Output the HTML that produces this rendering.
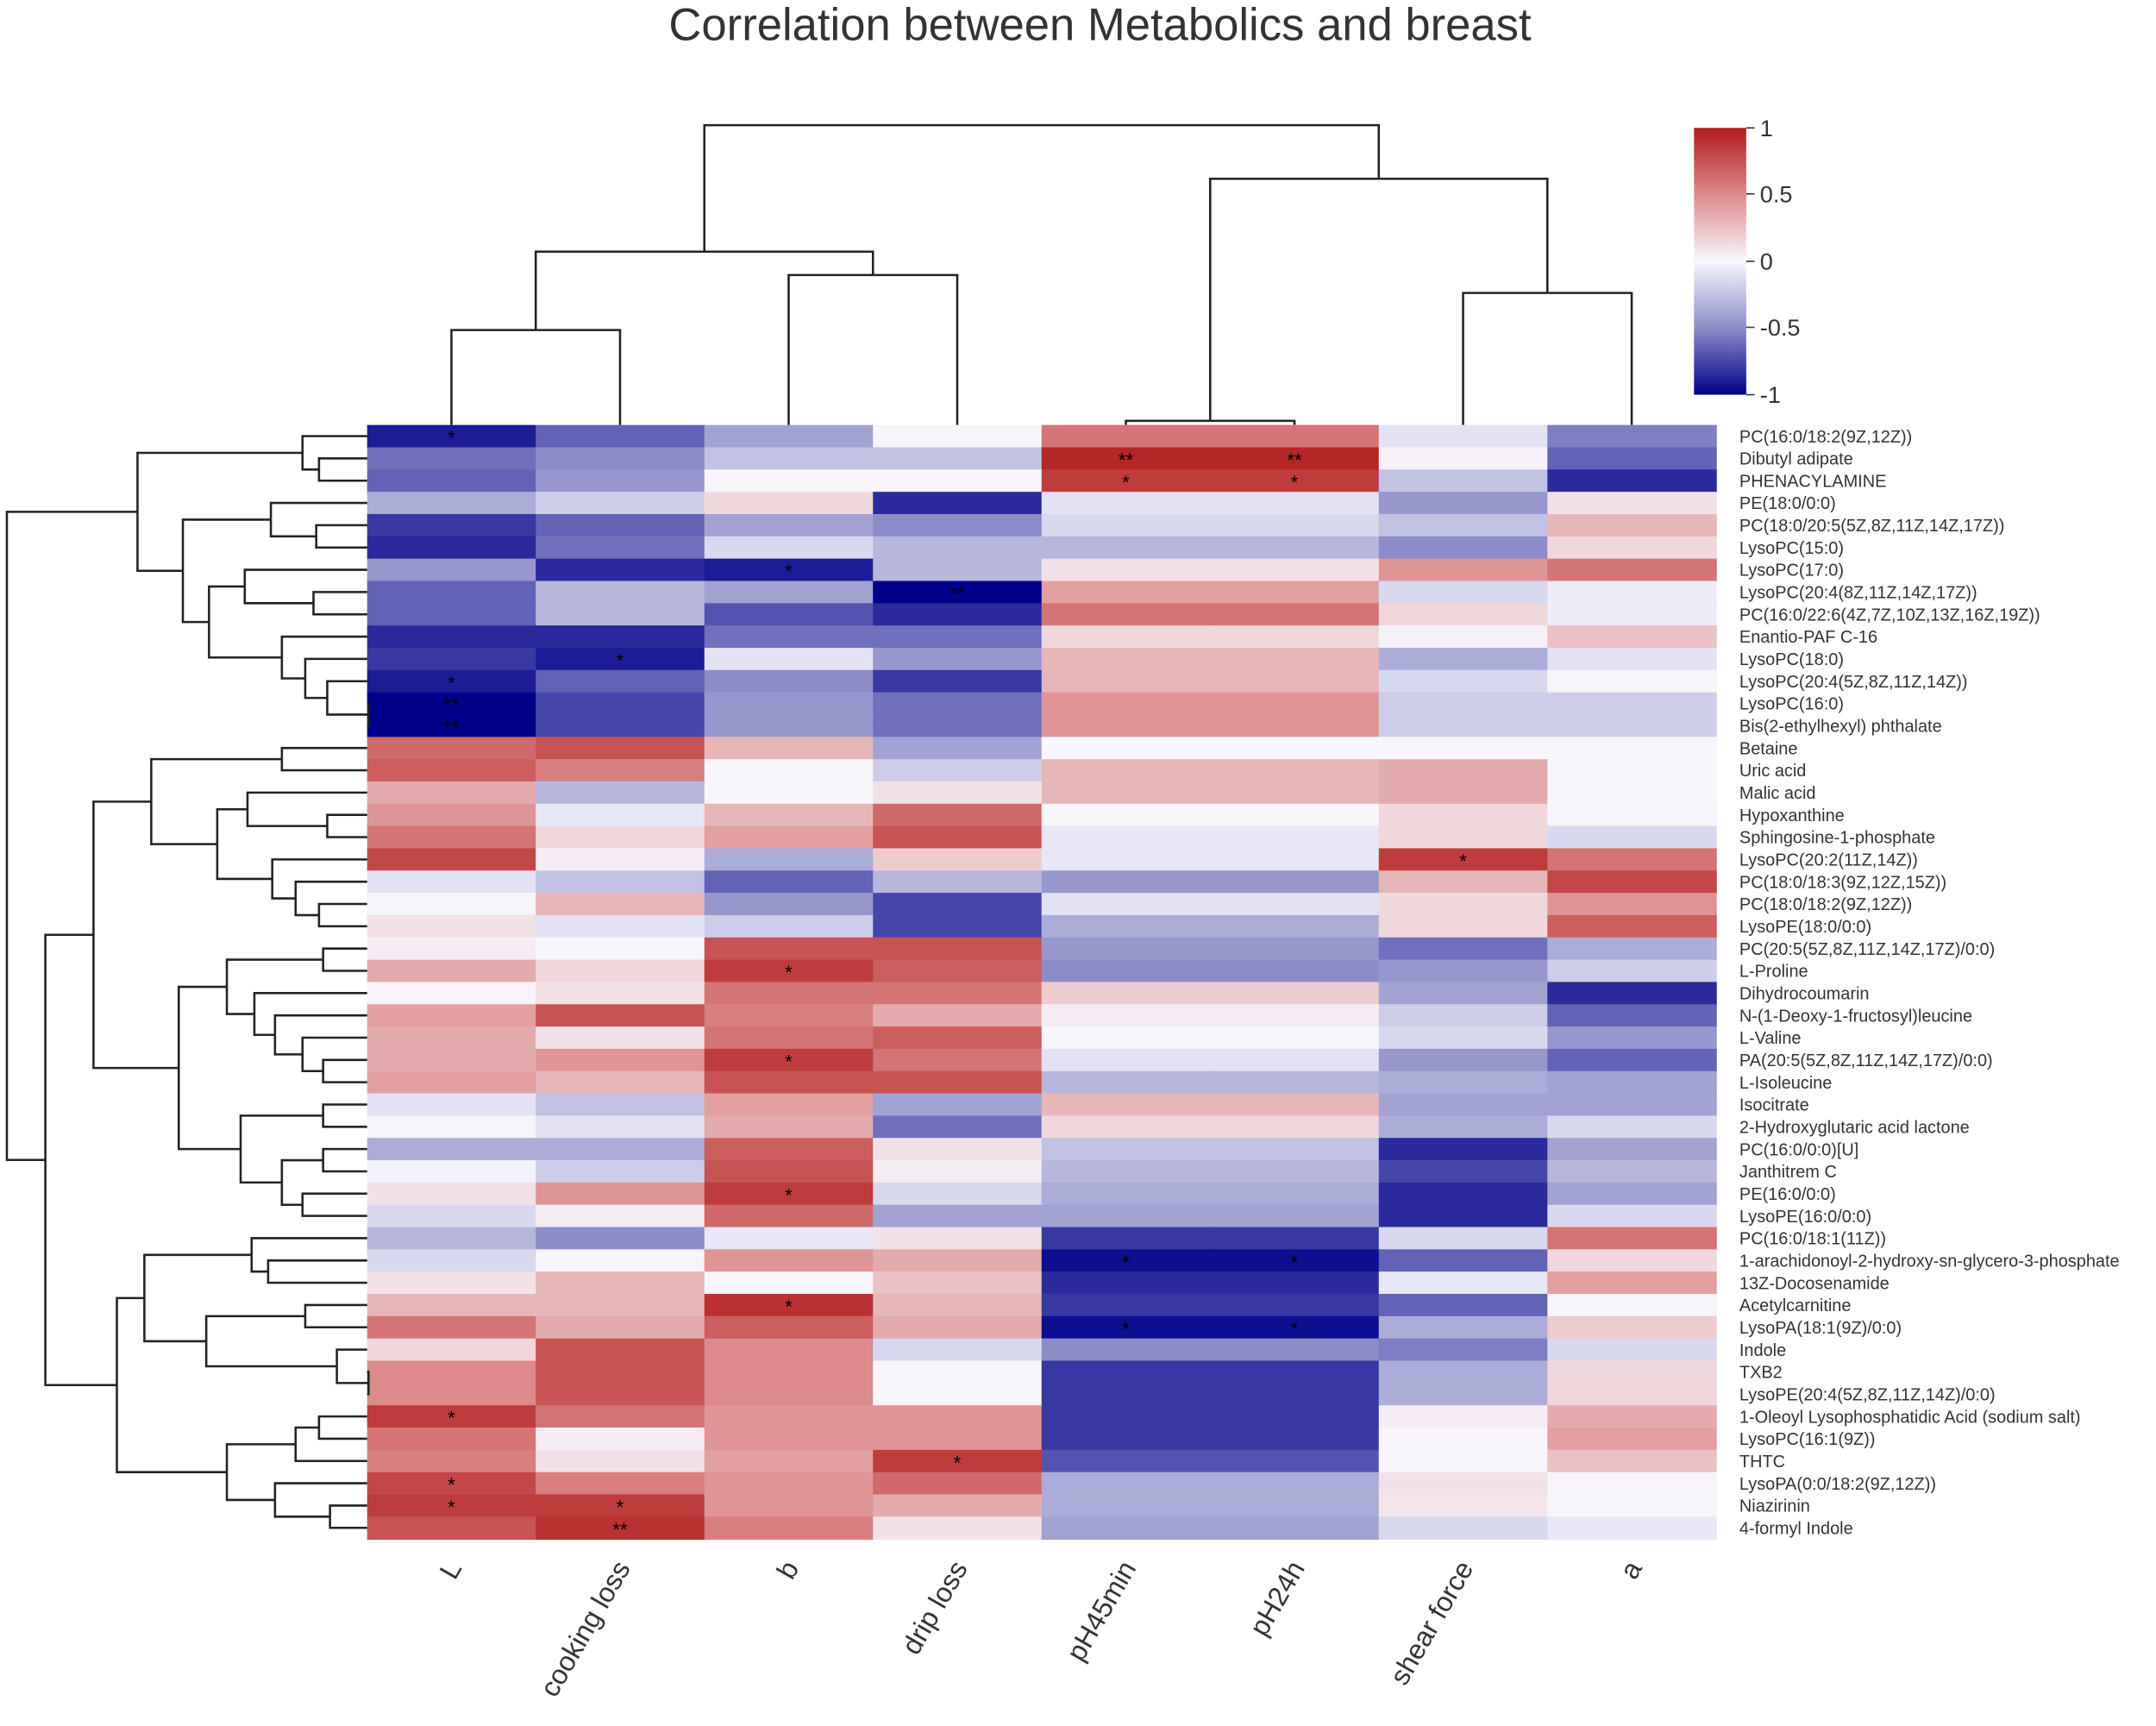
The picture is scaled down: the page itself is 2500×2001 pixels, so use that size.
<!DOCTYPE html>
<html><head><meta charset="utf-8"><style>
html,body{margin:0;padding:0;background:#fff}
svg{display:block}
</style></head><body>
<svg id="chart" width="2500" height="2001" viewBox="0 0 1568 1255" preserveAspectRatio="none" xmlns="http://www.w3.org/2000/svg" font-family="Liberation Sans, sans-serif">
<defs><linearGradient id="cbar" x1="0" y1="1" x2="0" y2="0">
<stop offset="0" stop-color="#00008b"/><stop offset="0.25" stop-color="#8c8cc8"/><stop offset="0.5" stop-color="#f8f8ff"/><stop offset="0.75" stop-color="#dc8a8a"/><stop offset="1" stop-color="#b31b1b"/></linearGradient></defs>
<text x="800" y="29" text-anchor="middle" font-size="33" fill="#333">Correlation between Metabolics and breast</text>
<g id="cells"></g><g id="stars"></g><g id="rowlabels"></g><g id="collabels"></g><g id="dendro" fill="none" stroke="#222" stroke-width="1.6"></g>
<g>
<rect x="1232" y="93" width="38" height="194" fill="url(#cbar)"/>
<g font-size="17" fill="#333" stroke="#333" stroke-width="1">
<line x1="1270" y1="93" x2="1276" y2="93"/><text stroke="none" x="1280" y="99">1</text>
<line x1="1270" y1="141" x2="1276" y2="141"/><text stroke="none" x="1280" y="147">0.5</text>
<line x1="1270" y1="190" x2="1276" y2="190"/><text stroke="none" x="1280" y="196">0</text>
<line x1="1270" y1="238" x2="1276" y2="238"/><text stroke="none" x="1280" y="244">-0.5</text>
<line x1="1270" y1="287" x2="1276" y2="287"/><text stroke="none" x="1280" y="293">-1</text>
</g></g>
</svg>
<script>
const columns=["L","cooking loss","b","drip loss","pH45min","pH24h","shear force","a"];
const rows=["PC(16:0/18:2(9Z,12Z))","Dibutyl adipate","PHENACYLAMINE","PE(18:0/0:0)","PC(18:0/20:5(5Z,8Z,11Z,14Z,17Z))","LysoPC(15:0)","LysoPC(17:0)","LysoPC(20:4(8Z,11Z,14Z,17Z))","PC(16:0/22:6(4Z,7Z,10Z,13Z,16Z,19Z))","Enantio-PAF C-16","LysoPC(18:0)","LysoPC(20:4(5Z,8Z,11Z,14Z))","LysoPC(16:0)","Bis(2-ethylhexyl) phthalate","Betaine","Uric acid","Malic acid","Hypoxanthine","Sphingosine-1-phosphate","LysoPC(20:2(11Z,14Z))","PC(18:0/18:3(9Z,12Z,15Z))","PC(18:0/18:2(9Z,12Z))","LysoPE(18:0/0:0)","PC(20:5(5Z,8Z,11Z,14Z,17Z)/0:0)","L-Proline","Dihydrocoumarin","N-(1-Deoxy-1-fructosyl)leucine","L-Valine","PA(20:5(5Z,8Z,11Z,14Z,17Z)/0:0)","L-Isoleucine","Isocitrate","2-Hydroxyglutaric acid lactone","PC(16:0/0:0)[U]","Janthitrem C","PE(16:0/0:0)","LysoPE(16:0/0:0)","PC(16:0/18:1(11Z))","1-arachidonoyl-2-hydroxy-sn-glycero-3-phosphate","13Z-Docosenamide","Acetylcarnitine","LysoPA(18:1(9Z)/0:0)","Indole","TXB2","LysoPE(20:4(5Z,8Z,11Z,14Z)/0:0)","1-Oleoyl Lysophosphatidic Acid (sodium salt)","LysoPC(16:1(9Z))","THTC","LysoPA(0:0/18:2(9Z,12Z))","Niazirinin","4-formyl Indole"];
const values=[
[-0.9,-0.65,-0.4,0.02,0.6,0.6,-0.1,-0.55],
[-0.6,-0.5,-0.25,-0.25,0.95,0.95,0.03,-0.65],
[-0.65,-0.45,0.02,0.02,0.85,0.85,-0.25,-0.85],
[-0.35,-0.2,0.15,-0.85,-0.1,-0.1,-0.45,0.1],
[-0.8,-0.65,-0.4,-0.5,-0.15,-0.15,-0.25,0.3],
[-0.85,-0.6,-0.15,-0.3,-0.3,-0.3,-0.5,0.15],
[-0.45,-0.85,-0.9,-0.3,0.1,0.1,0.45,0.6],
[-0.65,-0.3,-0.4,-1,0.4,0.4,-0.15,-0.05],
[-0.65,-0.3,-0.7,-0.85,0.6,0.6,0.15,-0.05],
[-0.85,-0.85,-0.6,-0.6,0.15,0.15,0.03,0.25],
[-0.8,-0.9,-0.1,-0.45,0.3,0.3,-0.35,-0.1],
[-0.9,-0.65,-0.5,-0.8,0.3,0.3,-0.15,0.02],
[-1,-0.75,-0.45,-0.6,0.45,0.45,-0.2,-0.2],
[-1,-0.75,-0.45,-0.6,0.45,0.45,-0.2,-0.2],
[0.65,0.75,0.3,-0.4,0.01,0.01,0.01,0.01],
[0.7,0.55,0.02,-0.2,0.3,0.3,0.35,0.01],
[0.35,-0.3,0.02,0.1,0.3,0.3,0.35,0.01],
[0.45,-0.08,0.3,0.65,0.02,0.02,0.15,0.02],
[0.6,0.15,0.4,0.75,-0.08,-0.08,0.15,-0.15],
[0.8,0.05,-0.35,0.2,-0.08,-0.08,0.85,0.6],
[-0.1,-0.25,-0.65,-0.3,-0.45,-0.45,0.3,0.8],
[0.02,0.3,-0.45,-0.75,-0.1,-0.1,0.15,0.45],
[0.1,-0.1,-0.2,-0.75,-0.35,-0.35,0.15,0.7],
[0.05,0.01,0.75,0.75,-0.45,-0.45,-0.6,-0.35],
[0.35,0.15,0.85,0.7,-0.5,-0.5,-0.45,-0.2],
[0.02,0.1,0.6,0.6,0.2,0.2,-0.4,-0.85],
[0.4,0.75,0.55,0.35,0.05,0.05,-0.2,-0.65],
[0.35,0.1,0.6,0.7,0.01,0.01,-0.15,-0.45],
[0.35,0.45,0.85,0.6,-0.1,-0.1,-0.45,-0.65],
[0.4,0.3,0.75,0.75,-0.3,-0.3,-0.35,-0.4],
[-0.1,-0.25,0.4,-0.4,0.3,0.3,-0.4,-0.4],
[0.02,-0.1,0.35,-0.6,0.15,0.15,-0.35,-0.15],
[-0.35,-0.35,0.7,0.1,-0.25,-0.25,-0.85,-0.4],
[-0.03,-0.2,0.75,0.05,-0.3,-0.3,-0.75,-0.3],
[0.1,0.45,0.85,-0.15,-0.35,-0.35,-0.85,-0.4],
[-0.15,0.05,0.65,-0.4,-0.4,-0.4,-0.85,-0.15],
[-0.3,-0.5,-0.08,0.1,-0.8,-0.8,-0.15,0.6],
[-0.15,0.02,0.45,0.35,-0.95,-0.95,-0.65,0.15],
[0.1,0.3,0.02,0.25,-0.85,-0.85,-0.08,0.4],
[0.3,0.3,0.9,0.3,-0.8,-0.8,-0.65,0.02],
[0.6,0.35,0.7,0.35,-0.95,-0.95,-0.35,0.2],
[0.15,0.75,0.5,-0.15,-0.5,-0.5,-0.55,-0.15],
[0.5,0.75,0.5,0.02,-0.8,-0.8,-0.35,0.15],
[0.5,0.75,0.5,0.02,-0.8,-0.8,-0.35,0.15],
[0.85,0.6,0.45,0.45,-0.8,-0.8,0.05,0.35],
[0.6,0.05,0.45,0.45,-0.8,-0.8,0.02,0.4],
[0.55,0.1,0.4,0.85,-0.7,-0.7,0.02,0.25],
[0.8,0.55,0.45,0.65,-0.35,-0.35,0.1,0.02],
[0.85,0.85,0.45,0.35,-0.35,-0.35,0.08,0.02],
[0.75,0.9,0.55,0.1,-0.4,-0.4,-0.15,-0.08]];
const stars={"0,0":"*","1,4":"**","1,5":"**","2,4":"*","2,5":"*","6,2":"*","7,3":"**","10,1":"*","11,0":"*","12,0":"**","13,0":"**","19,6":"*","24,2":"*","28,2":"*","34,2":"*","37,4":"*","37,5":"*","39,2":"*","40,4":"*","40,5":"*","44,0":"*","46,3":"*","47,0":"*","48,0":"*","48,1":"*","49,1":"**"};
const colTree=[[[0,1,240],[2,3,200],183],[[4,5,306],[6,7,213],130],91];
const rowTree=[
 [[0,[1,2,232],220],[[3,[4,5,230],197],[[6,[7,8,228],178],[9,[10,[11,[12,13,268],238],222],205],152],133],100],
 [[[[14,15,205],[[16,[17,18,238],180],[19,[20,[21,22,232],215],198],158],110],[[[23,24,235],[25,[26,[27,[28,29,235],220],200],185],165],[[30,31,235],[[32,33,235],[34,35,220],205],175],130],68],
  [[[36,[37,38,195],183],[[39,40,222],[41,[42,43,268],245],150],105],[[[44,45,232],46,215],[47,[48,49,240],200],165],85],33],
 5];
const X0=267,X1=1248,Y0=309,Y1=1119;
const cw=(X1-X0)/columns.length, rh=(Y1-Y0)/rows.length;
const xs=j=>X0+j*cw, ys=i=>Y0+i*rh;
const NS="http://www.w3.org/2000/svg";
function mk(t,a,p){const e=document.createElementNS(NS,t);for(const k in a)e.setAttribute(k,a[k]);p.appendChild(e);return e;}
const neg=[[0,0,139],[140,140,200],[248,248,255]], pos=[[248,248,255],[220,138,138],[179,27,27]];
function lerp(a,b,t){return a.map((v,i)=>Math.round(v+(b[i]-v)*t));}
function color(v){v=Math.max(-1,Math.min(1,v));let c;
 if(v<0){const t=v+1;c=t<0.5?lerp(neg[0],neg[1],t*2):lerp(neg[1],neg[2],(t-0.5)*2);}
 else{c=v<0.5?lerp(pos[0],pos[1],v*2):lerp(pos[1],pos[2],(v-0.5)*2);}
 return `rgb(${c[0]},${c[1]},${c[2]})`;}
const gC=document.getElementById('cells'),gS=document.getElementById('stars'),gR=document.getElementById('rowlabels'),gL=document.getElementById('collabels'),gD=document.getElementById('dendro');
values.forEach((r,i)=>r.forEach((v,j)=>{
 const e=mk('rect',{x:xs(j),y:ys(i),width:cw+0.6,height:rh+0.6,fill:color(v)},gC);
 
 
 const s=stars[i+','+j];
 if(s){const t=mk('text',{x:xs(j)+cw/2,y:ys(i)+rh/2+6,'text-anchor':'middle','font-size':14,fill:'#000'},gS);t.textContent=s;
  
  }
}));
rows.forEach((n,i)=>{const t=mk('text',{x:1265,y:ys(i)+rh/2+4.5,'font-size':12.5,fill:'#333'},gR);t.textContent=n;
 
 });
columns.forEach((n,j)=>{const cx=xs(j)+cw/2+8,cy=1140;const t=mk('text',{x:cx,y:cy,'font-size':20,fill:'#333','text-anchor':'end',transform:`rotate(-60 ${cx} ${cy})`},gL);t.textContent=n;
 
 });
function drawCol(n){if(typeof n==='number')return [xs(n)+cw/2,Y0];
 const a=drawCol(n[0]),b=drawCol(n[1]),h=n[2];
 const p=mk('path',{d:`M${a[0]},${a[1]}V${h}H${b[0]}V${b[1]}`},gD);
 
 
 return [(a[0]+b[0])/2,h];}
function drawRow(n){if(typeof n==='number')return [X0,ys(n)+rh/2];
 const a=drawRow(n[0]),b=drawRow(n[1]),h=n[2];
 const p=mk('path',{d:`M${a[0]},${a[1]}H${h}V${b[1]}H${b[0]}`},gD);
 
 
 return [h,(a[1]+b[1])/2];}
drawCol(colTree);drawRow(rowTree);
</script>
</body></html>
